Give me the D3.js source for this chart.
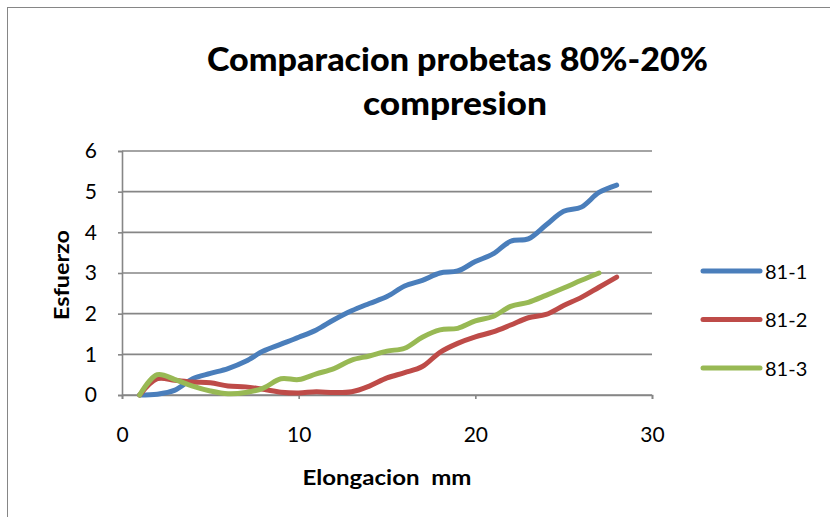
<!DOCTYPE html>
<html>
<head>
<meta charset="utf-8">
<script src="https://cdn.jsdelivr.net/npm/d3@7"></script>
<style>
  html, body { margin: 0; padding: 0; background: #fff; }
  svg { display: block; font-family: Lato, "Open Sans", sans-serif; }
</style>
</head>
<body>
<svg id="chart" width="830" height="517"></svg>
<script>
// Elongation (mm) sample positions
const elong = [1,2,3,4,5,6,7,8,9,10,11,12,13,14,15,16,17,18,19,20,21,22,23,24,25,26,27,28];

// Stress readings per specimen
const s811 = [0,0.02,0.12,0.4,0.53,0.65,0.83,1.08,1.25,1.42,1.6,1.85,2.07,2.25,2.42,2.68,2.82,3.0,3.05,3.28,3.47,3.78,3.84,4.18,4.52,4.62,4.98,5.16];
const s812 = [0,0.4,0.36,0.32,0.3,0.22,0.2,0.14,0.07,0.05,0.08,0.06,0.08,0.22,0.42,0.55,0.7,1.05,1.27,1.43,1.55,1.72,1.9,1.98,2.2,2.4,2.65,2.9];
const s813 = [0,0.5,0.38,0.22,0.1,0.03,0.06,0.17,0.4,0.38,0.52,0.65,0.86,0.96,1.08,1.15,1.42,1.6,1.64,1.82,1.93,2.18,2.28,2.45,2.63,2.82,3.0];

const seriesNames = ["81-1", "81-2", "81-3"];
const seriesColors = ["#4A7EBB", "#BE4B48", "#98B954"];
const xTicks = [0, 10, 20, 30];
const yTicks = [0, 1, 2, 3, 4, 5, 6];

const series = [s811, s812, s813].map((vals, i) => ({
  name: seriesNames[i],
  color: seriesColors[i],
  points: vals.map((v, j) => ({ x: elong[j], y: v }))
}));

const svg = d3.select("#chart");

// outer chart frame
svg.append("rect")
  .attr("x", 7.5).attr("y", 7.5)
  .attr("width", 840).attr("height", 530)
  .attr("fill", "none").attr("stroke", "#868686").attr("stroke-width", 1);

const x = d3.scaleLinear().domain([0, 30]).range([122, 652]);
const y = d3.scaleLinear().domain([0, 6]).range([395, 151]);

// horizontal gridlines
svg.append("g")
  .selectAll("line")
  .data(yTicks)
  .join("line")
  .attr("x1", x(0)).attr("x2", x(30))
  .attr("y1", d => y(d)).attr("y2", d => y(d))
  .attr("stroke", "#868686").attr("stroke-width", 1.6);

// y axis
const yAxis = svg.append("g")
  .attr("transform", `translate(${x(0)},0)`)
  .call(d3.axisLeft(y).tickValues(yTicks).tickSize(4).tickPadding(21).tickFormat(d3.format("d")));
yAxis.select(".domain").attr("stroke", "#868686").attr("stroke-width", 1.6);
yAxis.selectAll(".tick line").attr("stroke", "#868686").attr("stroke-width", 1.6);
yAxis.selectAll(".tick text")
  .attr("font-size", 21).attr("fill", "#000")
  .attr("font-family", "Lato, sans-serif");

// x axis
const xAxis = svg.append("g")
  .attr("transform", `translate(0,${y(0)})`)
  .call(d3.axisBottom(x).tickValues(xTicks).tickSize(4).tickPadding(28).tickFormat(d3.format("d")));
xAxis.select(".domain").attr("stroke", "#868686").attr("stroke-width", 1.6);
xAxis.selectAll(".tick line").attr("stroke", "#868686").attr("stroke-width", 1.6);
xAxis.selectAll(".tick text")
  .attr("font-size", 21).attr("fill", "#000")
  .attr("font-family", "Lato, sans-serif");

// data lines, smoothed
const line = d3.line()
  .x(d => x(d.x))
  .y(d => y(d.y))
  .curve(d3.curveCatmullRom.alpha(0.5));

svg.append("g")
  .selectAll("path")
  .data(series)
  .join("path")
  .attr("d", d => line(d.points))
  .attr("fill", "none")
  .attr("stroke", d => d.color)
  .attr("stroke-width", 5)
  .attr("stroke-linecap", "round")
  .attr("stroke-linejoin", "round");

// title, two lines
svg.append("text")
  .attr("x", 457.5).attr("y", 71)
  .attr("text-anchor", "middle")
  .attr("font-weight", 900)
  .attr("font-size", 33)
  .attr("textLength", 501)
  .attr("lengthAdjust", "spacingAndGlyphs")
  .text("Comparacion probetas 80%-20%");
svg.append("text")
  .attr("x", 455).attr("y", 115)
  .attr("text-anchor", "middle")
  .attr("font-weight", 900)
  .attr("font-size", 33)
  .attr("textLength", 184)
  .attr("lengthAdjust", "spacingAndGlyphs")
  .text("compresion");

// axis titles
svg.append("text")
  .attr("x", 387).attr("y", 485)
  .attr("text-anchor", "middle")
  .attr("font-weight", "bold")
  .attr("font-size", 20)
  .attr("xml:space", "preserve")
  .attr("textLength", 169)
  .attr("lengthAdjust", "spacingAndGlyphs")
  .text("Elongacion  mm");

svg.append("text")
  .attr("transform", "translate(69,275) rotate(-90)")
  .attr("text-anchor", "middle")
  .attr("font-weight", "bold")
  .attr("font-size", 20)
  .attr("textLength", 90)
  .attr("lengthAdjust", "spacingAndGlyphs")
  .text("Esfuerzo");

// legend
const legend = svg.append("g")
  .selectAll("g")
  .data(series)
  .join("g")
  .attr("transform", (d, i) => `translate(703,${271 + i * 48.5})`);
legend.append("line")
  .attr("x1", 0).attr("x2", 57)
  .attr("stroke", d => d.color)
  .attr("stroke-width", 5)
  .attr("stroke-linecap", "round");
legend.append("text")
  .attr("x", 62).attr("y", 7.5)
  .attr("font-size", 20)
  .attr("fill", "#000")
  .text(d => d.name);
</script>
</body>
</html>
